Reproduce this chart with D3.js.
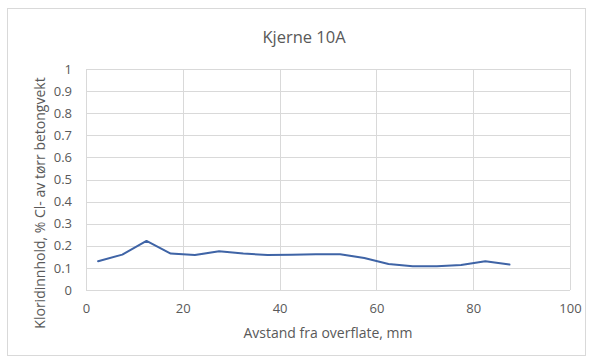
<!DOCTYPE html>
<html><head><meta charset="utf-8">
<script src="https://cdn.jsdelivr.net/npm/d3@7"></script>
<style>body{margin:0;background:#fff;} text{font-family:"Open Sans","Noto Sans",sans-serif;}</style>
</head><body>
<svg id="c" width="595" height="358"></svg>
<script>
const title = "Kjerne 10A";
const xLabel = "Avstand fra overflate, mm";
const yLabel = "Kloridinnhold, % Cl- av tørr betongvekt";
const depths = [2.5,7.5,12.5,17.5,22.5,27.5,32.5,37.5,42.5,47.5,52.5,57.5,62.5,67.5,72.5,77.5,82.5,87.5];
const chloride = [0.13,0.16,0.222,0.165,0.158,0.175,0.165,0.158,0.16,0.162,0.162,0.145,0.118,0.108,0.108,0.113,0.13,0.115];
const xTicks = [0,20,40,60,80,100];
const yTicks = [0,0.1,0.2,0.3,0.4,0.5,0.6,0.7,0.8,0.9,1];

const svg = d3.select("#c");
svg.append("rect").attr("x",7.5).attr("y",8.5).attr("width",578).attr("height",347)
  .attr("fill","#fff").attr("stroke","#d9d9d9");

const x = d3.scaleLinear().domain([0,100]).range([86,570]);
const y = d3.scaleLinear().domain([0,1]).range([290,69]);

const g = svg.append("g");
g.selectAll(".hg").data(yTicks).join("line")
  .attr("x1",x(0)).attr("x2",x(100)).attr("y1",d=>Math.round(y(d))+0.5).attr("y2",d=>Math.round(y(d))+0.5)
  .attr("stroke","#d9d9d9").attr("stroke-width",1);
g.selectAll(".vg").data(xTicks).join("line")
  .attr("y1",y(0)).attr("y2",y(1)).attr("x1",d=>Math.round(x(d))+0.5).attr("x2",d=>Math.round(x(d))+0.5)
  .attr("stroke","#d9d9d9").attr("stroke-width",1);

const xa = svg.append("g").attr("transform",`translate(0,${y(0)})`)
  .call(d3.axisBottom(x).tickValues(xTicks).tickSize(0).tickPadding(14).tickFormat(d3.format("d")));
xa.select(".domain").remove();
xa.selectAll("text").attr("fill","#595959").style("font-size","13px");

const ya = svg.append("g").attr("transform",`translate(${x(0)},0)`)
  .call(d3.axisLeft(y).tickValues(yTicks).tickSize(0).tickPadding(14).tickFormat(d=>d3.format("")(+d.toFixed(1))));
ya.select(".domain").remove();
ya.selectAll("text").attr("fill","#595959").style("font-size","13px");

const line = d3.line().x((d,i)=>x(depths[i])).y(d=>y(d));
svg.append("path").datum(chloride).attr("d",line).attr("fill","none")
  .attr("stroke","#3F64A6").attr("stroke-width",2).attr("stroke-linejoin","round").attr("stroke-linecap","round");

svg.append("text").attr("x",304).attr("y",43).attr("text-anchor","middle")
  .attr("fill","#595959").style("font-size","16.5px").text(title);
svg.append("text").attr("x",x(50)).attr("y",338).attr("text-anchor","middle")
  .attr("fill","#595959").style("font-size","14px").text(xLabel);
svg.append("text").attr("transform",`translate(45,203) rotate(-90)`).attr("text-anchor","middle")
  .attr("fill","#595959").style("font-size","14px").text(yLabel);
</script>
</body></html>
